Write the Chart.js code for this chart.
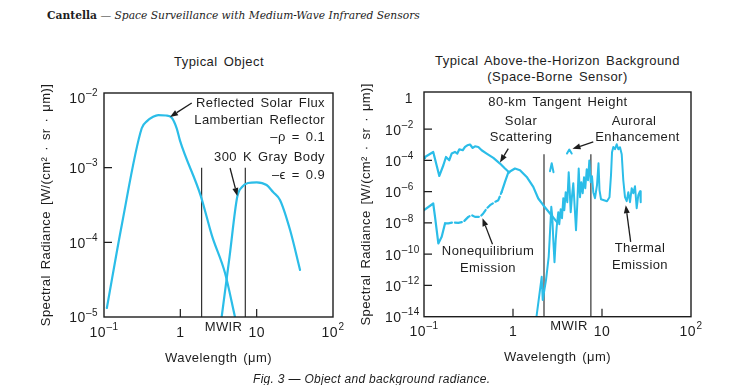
<!DOCTYPE html>
<html><head><meta charset="utf-8">
<script src="https://cdn.jsdelivr.net/npm/chart.js@4.4.1/dist/chart.umd.min.js"></script>
<style>
html,body{margin:0;padding:0;background:#fff;}
#wrap{position:relative;width:739px;height:385px;overflow:hidden;font-family:"Liberation Sans",Arial,sans-serif;color:#1d1d1d;}
canvas{position:absolute;left:0;top:0;}
.t{position:absolute;white-space:nowrap;transform:translate(-50%,-50%);font-size:13px;letter-spacing:0.45px;word-spacing:2px;}
#hdr{position:absolute;left:47px;top:9px;font-family:"DejaVu Serif",serif;font-size:10.7px;font-style:italic;white-space:nowrap;}
#hdr b{font-style:normal;}
#cap{position:absolute;left:253px;top:372px;font-size:12px;font-style:italic;white-space:nowrap;letter-spacing:0.3px;}
</style></head><body>
<div id="wrap">
<div id="hdr"><b>Cantella</b> — Space Surveillance with Medium-Wave Infrared Sensors</div>
<div class="t" style="left:219px;top:61px;">Typical Object</div>
<div class="t" style="left:557.5px;top:60px;">Typical Above-the-Horizon Background</div>
<div class="t" style="left:557.5px;top:76px;">(Space-Borne Sensor)</div>
<canvas id="c1" width="739" height="385"></canvas>
<canvas id="c2" width="739" height="385"></canvas>
<div id="cap">Fig. 3 — Object and background radiance.</div>
</div>
<script>
// ---------- Left panel: Typical Object ----------
const solarReflX = [0.109, 0.171, 0.312, 0.366, 0.44, 0.514, 0.649, 0.771, 0.896, 0.99, 1.85, 2.6, 3.85, 5.2];
const solarReflY = [1.32e-5, 1.71e-4, 3.37e-3, 4.2e-3, 4.8e-3, 5.07e-3, 5.0e-3, 4.67e-3, 3.37e-3, 2.3e-3, 4.2e-4, 1.22e-4, 3.88e-5, 1e-5];
const grayBodyX = [3.48, 4.41, 5.57, 6.43, 7.7, 10.0, 13.5, 16.4, 20.2, 27.4, 37];
const grayBodyY = [1e-5, 6.4e-5, 4.08e-4, 5.51e-4, 6.24e-4, 6.37e-4, 5.86e-4, 4.72e-4, 3.69e-4, 1.46e-4, 4.27e-5];
const mwirLeft = [1.9, 7.1];
const mwirLeftTop = 1e-3;
const leftXTicks = [0.1, 1, 10, 100];
const leftXLabels = ['10⁻¹', '1', '10', '10²'];
const leftYTicks = [1e-5, 1e-4, 1e-3, 1e-2];
const leftYLabels = ['10⁻⁵', '10⁻⁴', '10⁻³', '10⁻²'];

// ---------- Right panel: Above-the-Horizon Background ----------
const solarScatX = [0.1, 0.1026, 0.127, 0.1486, 0.165, 0.1766, 0.1923, 0.2046, 0.2228, 0.2366, 0.2495, 0.2723, 0.2891, 0.3069, 0.3289, 0.3524, 0.3741, 0.4074, 0.4446, 0.5058, 0.6012, 0.7145, 0.8128, 0.9078];
const solarScatY = [1.38e-4, 1.66e-4, 3.49e-4, 1.02e-5, 4.93e-5, 1.67e-4, 1.03e-4, 2.76e-4, 3.49e-4, 2.76e-4, 5.2e-4, 4.49e-4, 7.3e-4, 9.35e-4, 1.04e-3, 6.3e-4, 8.07e-4, 7.3e-4, 4.49e-4, 2.76e-4, 1.45e-4, 6.34e-5, 3.03e-5, 1.69e-5];
const noneqX = [0.1, 0.127, 0.133, 0.1449, 0.1581, 0.1722, 0.1875, 0.2133, 0.2427, 0.2767, 0.3148, 0.3436, 0.3741, 0.4256, 0.4634, 0.5058, 0.5521, 0.6281, 0.6839, 0.7464, 0.8128, 0.8851, 1.052, 1.199, 1.426, 1.690, 1.923, 2.188, 2.606, 3.119];
const noneqY = [6.58e-8, 1.76e-7, 2.45e-8, 4.9e-10, 1.29e-9, 9.29e-9, 9.29e-9, 1.08e-8, 1.01e-8, 1.17e-8, 2.45e-8, 3.15e-8, 2.45e-8, 2.45e-8, 4.05e-8, 8.43e-8, 1.37e-7, 2.23e-7, 2.86e-7, 9.7e-7, 4.23e-6, 1.69e-5, 3.03e-5, 2.37e-5, 8.83e-6, 2.03e-6, 3.67e-7, 1.37e-7, 4.05e-8, 1.12e-8];
const thermalX = [1.837, 2.101, 2.157, 2.349, 2.518, 2.585, 2.694, 2.764, 2.837, 2.926, 3.018, 3.097, 3.228, 3.313, 3.436, 3.553, 3.674, 3.771, 3.91, 4.075, 4.225, 4.336, 4.449, 4.601, 4.759, 4.934, 5.105, 5.28, 5.474, 5.661, 5.854, 6.07, 6.279, 6.494, 6.733, 6.963, 7.2, 7.464, 7.72, 7.984, 8.342, 8.786, 9.135, 9.374, 9.745, 10.53, 11.38, 12.14, 12.62, 12.96, 13.40, 14.0, 14.63, 15.25, 15.93, 16.65, 17.35, 18.13, 18.95, 19.75, 20.64, 21.57, 22.47, 23.49, 24.54, 25.58, 26.73, 27.22];
const thermalY = [1e-14, 3.6e-12, 1.17e-13, 2.2e-12, 6.8e-11, 1.07e-9, 1.07e-7, 2.45e-8, 7.96e-10, 3.1e-11, 8e-10, 5.4e-9, 4.9e-8, 8.4e-9, 7.6e-8, 2.03e-8, 3.85e-7, 6.6e-8, 9.3e-7, 2.13e-7, 1.76e-5, 1.25e-6, 4.9e-8, 5.15e-7, 3.49e-6, 1.02e-7, 3.47e-9, 1.84e-7, 3e-5, 4.45e-7, 4.05e-6, 8.0e-7, 8.4e-6, 1.67e-6, 2.74e-5, 5.4e-6, 1e-4, 4.05e-6, 9.8e-6, 9.3e-7, 3.85e-7, 2.6e-6, 6.6e-5, 1.25e-6, 3.3e-7, 2.86e-7, 2.47e-7, 4.45e-7, 1.13e-5, 3.34e-4, 7.3e-4, 5.2e-4, 1.08e-3, 5.2e-4, 6.97e-4, 2.49e-4, 5.4e-6, 4.45e-7, 2.47e-7, 9.3e-7, 2.13e-7, 1.67e-6, 8.0e-7, 2.24e-6, 8.8e-8, 5.97e-7, 1.08e-6, 2.13e-7];
const auroraAX = [2.604, 2.722, 2.852];
const auroraAY = [2.04e-5, 6.62e-5, 1.76e-5];
const auroraBX = [4.044, 4.292, 4.566];
const auroraBY = [2.76e-4, 4.98e-4, 2.76e-4];
const mwirRight = [2.23, 7.5];
const mwirRightTop = 2.5e-4;
const rightXTicks = [0.1, 1, 10, 100];
const rightXLabels = ['10⁻¹', '1', '10', '10²'];
const rightYTicks = [1e-14, 1e-12, 1e-10, 1e-8, 1e-6, 1e-4, 1e-2, 1];
const rightYLabels = ['10⁻¹⁴', '10⁻¹²', '10⁻¹⁰', '10⁻⁸', '10⁻⁶', '10⁻⁴', '10⁻²', '1'];

// ---------- styling ----------
const CYAN = '#2bbde8';
const INK = '#1d1d1d';
const FONT = '"Liberation Sans", Arial, sans-serif';
const DASH_FROM = 0.17, DASH_TO = 0.75;
const SUP = {'⁻': '–', '⁰': '0', '¹': '1', '²': '2', '³': '3', '⁴': '4', '⁵': '5', '⁶': '6', '⁷': '7', '⁸': '8', '⁹': '9'};

function pts(xs, ys) { return xs.map((x, i) => ({x: x, y: ys[i]})); }

function curve(xs, ys, extra) {
  return Object.assign({data: pts(xs, ys), borderColor: CYAN, borderWidth: 2.2, pointRadius: 0, fill: false, tension: 0, borderJoinStyle: 'round', borderCapStyle: 'round'}, extra || {});
}
function vline(xv, top, bottom) {
  return {data: [{x: xv, y: top}, {x: xv, y: bottom}], borderColor: '#333', borderWidth: 1.2, pointRadius: 0, fill: false};
}

function splitLabel(s) {
  let i = 0;
  while (i < s.length && !(s[i] in SUP)) i++;
  return [s.slice(0, i), s.slice(i).split('').map(c => SUP[c]).join('')];
}
// draws "10" with a raised smaller exponent; align = 'center' | 'right' | 'left'
function drawTickLabel(ctx, s, x, y, align) {
  const parts = splitLabel(s), b = parts[0], e = parts[1];
  ctx.font = '14px ' + FONT; const wb = ctx.measureText(b).width;
  ctx.font = '10px ' + FONT; const we = e ? ctx.measureText(e).width + 0.5 : 0;
  const w = wb + we;
  const x0 = align === 'center' ? x - w / 2 : align === 'right' ? x - w : x;
  ctx.textAlign = 'left'; ctx.textBaseline = 'middle';
  ctx.font = '14px ' + FONT; ctx.fillText(b, x0, y);
  if (e) { ctx.font = '10px ' + FONT; ctx.fillText(e, x0 + wb + 0.5, y - 5.5); }
}

function makeFrame(texts, arrows, labels) {
  return {
    id: 'frame',
    beforeDraw(chart) { chart.ctx.letterSpacing = '0.4px'; chart.ctx.wordSpacing = '2px'; },
    afterDraw(chart) {
      const ctx = chart.ctx, a = chart.chartArea, sx = chart.scales.x, sy = chart.scales.y;
      ctx.save();
      ctx.strokeStyle = INK; ctx.lineWidth = 1.4;
      ctx.strokeRect(a.left, a.top, a.right - a.left, a.bottom - a.top);
      ctx.lineWidth = 1.2;
      ctx.beginPath();
      sx.ticks.forEach(t => { const p = sx.getPixelForValue(t.value); if (p > a.left + 6 && p < a.right - 6) { ctx.moveTo(p, a.bottom); ctx.lineTo(p, a.bottom - 8); } });
      sy.ticks.forEach(t => { const p = sy.getPixelForValue(t.value); if (p > a.top + 8 && p < a.bottom - 6) { ctx.moveTo(a.left, p); ctx.lineTo(a.left + 8, p); } });
      ctx.stroke();
      ctx.fillStyle = INK;
      ctx.letterSpacing = '0.4px'; ctx.wordSpacing = '2px';
      // tick labels
      sx.ticks.forEach((t, i) => drawTickLabel(ctx, labels.x[i], sx.getPixelForValue(t.value), a.bottom + labels.xOff, 'center'));
      sy.ticks.forEach((t, i) => {
        const s = labels.y[i];
        const py = Math.max(sy.getPixelForValue(t.value) + 1.5, a.top + 6);
        const hasExp = splitLabel(s)[1].length > 0;
        if (labels.yMode === 'left' && hasExp) drawTickLabel(ctx, s, a.left - labels.yLeft, py, 'left');
        else drawTickLabel(ctx, s, a.left - labels.yPad, py, 'right');
      });
      // annotations
      ctx.font = '13px ' + FONT;
      ctx.textBaseline = 'middle';
      texts.forEach(t => { ctx.textAlign = t.align || 'center'; ctx.fillText(t.text, sx.getPixelForValue(t.x), sy.getPixelForValue(t.y)); });
      arrows.forEach(ar => {
        const x0 = sx.getPixelForValue(ar.from[0]), y0 = sy.getPixelForValue(ar.from[1]);
        const x1 = sx.getPixelForValue(ar.to[0]), y1 = sy.getPixelForValue(ar.to[1]);
        const ang = Math.atan2(y1 - y0, x1 - x0), L = 8, W = 3;
        const bx = x1 - L * Math.cos(ang), by = y1 - L * Math.sin(ang);
        ctx.lineWidth = 1.3; ctx.strokeStyle = INK;
        ctx.beginPath(); ctx.moveTo(x0, y0); ctx.lineTo(bx, by); ctx.stroke();
        ctx.beginPath(); ctx.moveTo(x1, y1);
        ctx.lineTo(bx + W * Math.sin(ang), by - W * Math.cos(ang));
        ctx.lineTo(bx - W * Math.sin(ang), by + W * Math.cos(ang));
        ctx.closePath(); ctx.fill();
      });
      ctx.restore();
    }
  };
}

function axes(xr, xt, xl, yr, yt, yl) {
  const f = {size: 13, family: FONT};
  return {
    x: {type: 'logarithmic', min: xr[0], max: xr[1],
      afterBuildTicks: s => { s.ticks = xt.map(v => ({value: v})); },
      afterFit: s => { s.height = 52.8; },
      grid: {display: false, drawTicks: false}, border: {display: false},
      ticks: {display: false, autoSkip: false, maxRotation: 0, minRotation: 0, callback: (v, i) => xl[i]},
      title: {display: true, text: 'Wavelength (μm)', color: INK, font: f, padding: {top: 4, bottom: 4}}},
    y: {type: 'logarithmic', min: yr[0], max: yr[1],
      afterBuildTicks: s => { s.ticks = yt.map(v => ({value: v})); },
      afterFit: s => { s.width = 69; },
      grid: {display: false, drawTicks: false}, border: {display: false},
      ticks: {display: false, autoSkip: false, callback: (v, i) => yl[i]},
      title: {display: true, text: 'Spectral Radiance [W/(cm² · sr · μm)]', color: INK, font: f, padding: {top: 4, bottom: 4}}}
  };
}

const common = {responsive: false, animation: false, devicePixelRatio: 1, events: [],
  plugins: {legend: {display: false}, tooltip: {enabled: false}},
  elements: {point: {radius: 0}}};

// Left chart
new Chart(document.getElementById('c1'), {
  type: 'line',
  data: {datasets: [
    curve(solarReflX, solarReflY, {cubicInterpolationMode: 'monotone'}),
    curve(grayBodyX, grayBodyY, {cubicInterpolationMode: 'monotone'}),
    vline(mwirLeft[0], mwirLeftTop, leftYTicks[0]),
    vline(mwirLeft[1], mwirLeftTop, leftYTicks[0])
  ]},
  options: Object.assign({}, common, {
    layout: {padding: {left: 35, top: 93, right: 406, bottom: 15.2}},
    scales: axes([0.1, 100], leftXTicks, leftXLabels, [1e-5, 1e-2], leftYTicks, leftYLabels)
  }),
  plugins: [makeFrame([
    {text: 'Reflected Solar Flux', x: 78.6, y: 7.35e-3, align: 'right'},
    {text: 'Lambertian Reflector', x: 78.6, y: 4.35e-3, align: 'right'},
    {text: '–ρ = 0.1', x: 78.6, y: 2.58e-3, align: 'right'},
    {text: '300 K Gray Body', x: 78.6, y: 1.39e-3, align: 'right'},
    {text: '–ϵ = 0.9', x: 78.6, y: 7.98e-4, align: 'right'},
    {text: 'MWIR', x: 3.68, y: 7.35e-6, align: 'center'}
  ], [
    {from: [1.41, 7.35e-3], to: [0.732, 4.77e-3]},
    {from: [4.48, 9.9e-4], to: [5.58, 4.18e-4]}
  ], {x: leftXLabels, y: leftYLabels, xOff: 16, yMode: 'right', yPad: 6})]
});

// Right chart
new Chart(document.getElementById('c2'), {
  type: 'line',
  data: {datasets: [
    curve(solarScatX, solarScatY),
    curve(noneqX, noneqY, {segment: {borderDash: c => (c.p0.parsed.x >= DASH_FROM && c.p1.parsed.x <= DASH_TO) ? [7, 3] : undefined}}),
    curve(thermalX, thermalY, {borderWidth: 2}),
    curve(auroraAX, auroraAY, {borderWidth: 2}),
    curve(auroraBX, auroraBY, {borderWidth: 2}),
    vline(mwirRight[0], mwirRightTop, rightYTicks[0]),
    vline(mwirRight[1], mwirRightTop, rightYTicks[0])
  ]},
  options: Object.assign({}, common, {
    layout: {padding: {left: 355, top: 92, right: 48, bottom: 15.5}},
    scales: axes([0.1, 100], rightXTicks, rightXLabels, [1e-14, 2.4], rightYTicks, rightYLabels)
  }),
  plugins: [makeFrame([
    {text: '80-km Tangent Height', x: 3.2, y: 0.547},
    {text: 'Solar', x: 1.23, y: 0.0334},
    {text: 'Scattering', x: 1.23, y: 3.18e-3},
    {text: 'Auroral', x: 22.9, y: 0.0334},
    {text: 'Enhancement', x: 25.1, y: 3.18e-3},
    {text: 'Nonequilibrium', x: 0.524, y: 1.42e-10},
    {text: 'Emission', x: 0.524, y: 1.24e-11},
    {text: 'Thermal', x: 26.7, y: 2.35e-10},
    {text: 'Emission', x: 26.7, y: 2.01e-11},
    {text: 'MWIR', x: 4.26, y: 2.3e-15}
  ], [
    {from: [0.885, 5.75e-4], to: [0.7145, 7.35e-5]},
    {from: [7.98, 1.52e-3], to: [4.66, 5.6e-4]},
    {from: [0.588, 4.4e-10], to: [0.454, 2.03e-8]},
    {from: [21.0, 6.2e-10], to: [18.5, 1.37e-7]}
  ], {x: rightXLabels, y: rightYLabels, xOff: 15.5, yMode: 'left', yLeft: 39, yPad: 11})]
});
</script>
</body></html>
